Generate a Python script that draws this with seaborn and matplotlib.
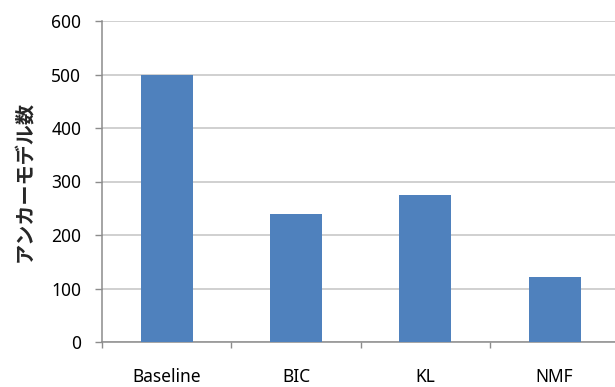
import matplotlib
matplotlib.use("Agg")
import matplotlib.pyplot as plt
from matplotlib.ticker import FixedLocator
import seaborn as sns
import pandas as pd

categories = ["Baseline", "BIC", "KL", "NMF"]
anchor_counts = [500, 240, 274, 122]
y_ticks = [0, 100, 200, 300, 400, 500, 600]

sns.set_style("white")
plt.rcParams["font.family"] = ["Noto Sans", "Noto Sans CJK JP", "DejaVu Sans"]

df = pd.DataFrame({"method": categories, "count": anchor_counts})

fig = plt.figure(figsize=(6.15, 3.87), dpi=100)
ax = fig.add_axes([102 / 615, 45 / 387, 517.3 / 615, 321 / 387])

sns.barplot(data=df, x="method", y="count", color="#4f81bd", width=0.4,
            saturation=1, linewidth=0, ax=ax, zorder=3)

ax.set_xlim(-0.5, len(categories) - 0.5)
ax.set_ylim(0, 600)
ax.set_yticks(y_ticks)
ax.set_yticklabels([str(v) for v in y_ticks], fontsize=12.5, color="#000000")
ax.yaxis.grid(True, color="#c4c4c4", linewidth=1.1, zorder=0)
ax.set_axisbelow(True)

# category labels at bar centres, tick marks at category boundaries
ax.set_xticks(range(len(categories)))
ax.set_xticklabels(categories, fontsize=12.5, color="#000000")
ax.xaxis.set_minor_locator(FixedLocator([i - 0.5 for i in range(len(categories) + 1)]))
ax.tick_params(axis="x", which="both", bottom=True)
ax.tick_params(axis="x", which="major", length=0, pad=19)
ax.tick_params(axis="x", which="minor", length=4.5, width=1, color="#8c8c8c", direction="out")
ax.tick_params(axis="y", which="major", left=True, length=5, width=1, color="#8c8c8c",
               direction="out", pad=10)

for side in ("top", "right"):
    ax.spines[side].set_visible(False)
for side in ("left", "bottom"):
    ax.spines[side].set_color("#8c8c8c")
    ax.spines[side].set_linewidth(1.1)

ax.set_xlabel("")
ax.set_ylabel("アンカーモデル数", fontsize=14.5, fontweight="bold",
              family=["Noto Sans CJK JP", "DejaVu Sans"])
ax.yaxis.set_label_coords(-67 / 517.3, 0.5 + (321 / 2 - (182 - 21)) / 321)

fig.savefig("out.png", dpi=100)
